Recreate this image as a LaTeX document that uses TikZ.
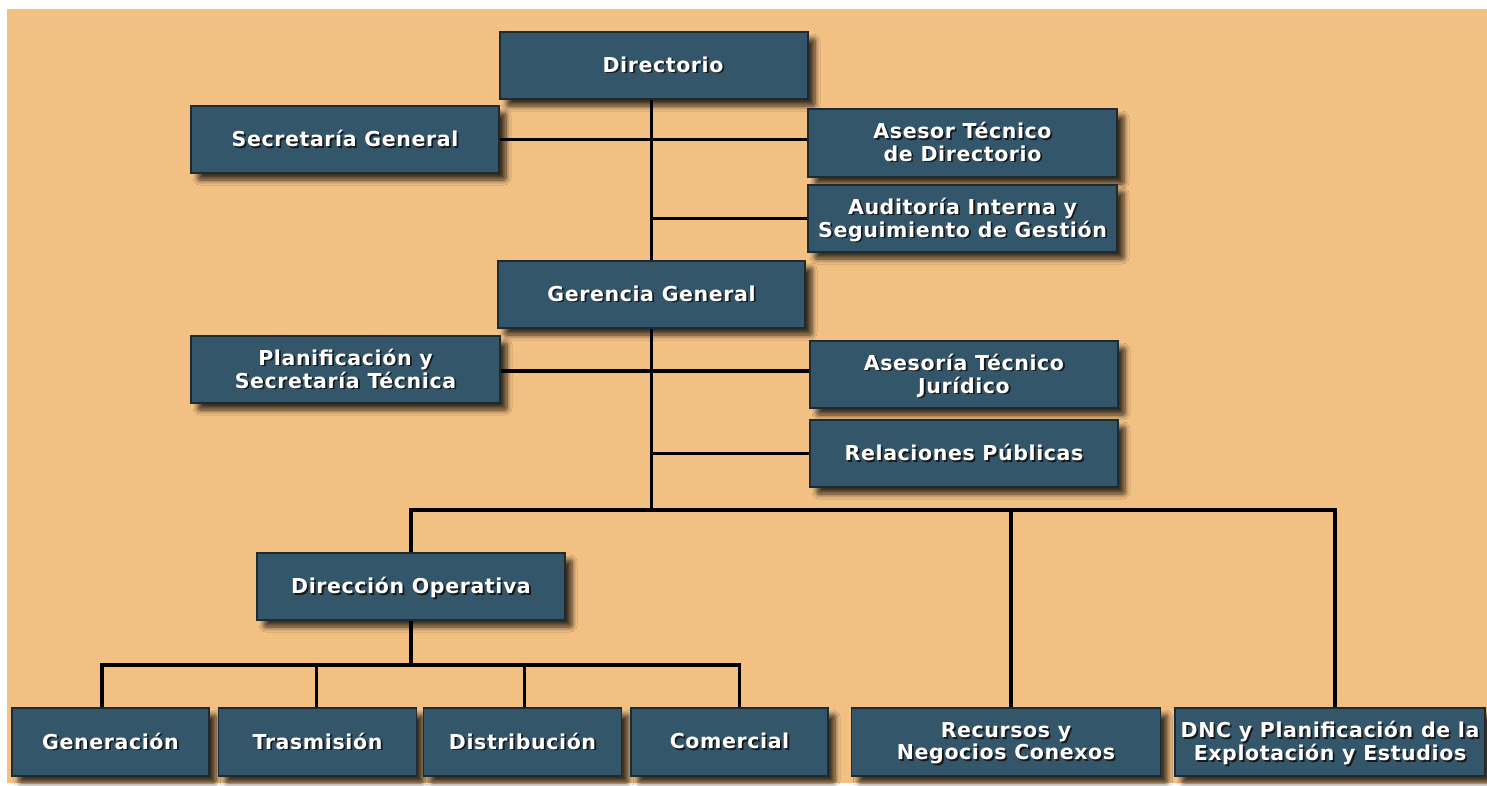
\documentclass[tikz,border=0pt]{standalone}
\usepackage{fontspec}
\setmainfont[LetterSpace=3]{DejaVu Sans}
\usetikzlibrary{shadows.blur,calc}
\definecolor{bgor}{HTML}{F2C083}
\definecolor{boxfill}{HTML}{33566B}
\definecolor{boxline}{HTML}{1B2A33}
\newcommand\lbltab[1]{\begin{tabular}{@{}c@{}}#1\end{tabular}}
\newcommand\lbl[1]{\raisebox{-3pt}[\height][\depth]{\rlap{\hspace{1.8pt}\raisebox{-1.8pt}{\color{black!90}\lbltab{#1}}}\lbltab{#1}}}
\tikzset{
  orgbox/.style={rectangle, fill=boxfill, draw=boxline, line width=1.5pt,
    minimum width=308pt, minimum height=67pt, inner sep=0pt, text=white,
    font=\bfseries\fontsize{20.5}{22}\selectfont,
    blur shadow={shadow xshift=7pt, shadow yshift=-7pt, shadow blur steps=8,
      shadow blur extra rounding=2pt, shadow opacity=75, shadow blur radius=5pt}},
  conn/.style={line width=3.5pt, black, line join=miter}
}
\begin{document}
\begin{tikzpicture}[x=1pt,y=-1pt]
\useasboundingbox (0,0) rectangle (1487,785);
\fill[white] (0,0) rectangle (1487,785);
\fill[bgor] (7,9) rectangle (1487,783);

\node[orgbox] (dir) at (654,65.5) {\lbl{\hspace{18pt}Directorio}};
\node[orgbox] (sec) at (345,139.5) {\lbl{Secretaría General}};
\node[orgbox, minimum width=309pt, minimum height=68pt] (ase) at (962.5,143) {\lbl{Asesor Técnico\\de Directorio}};
\node[orgbox, minimum width=309pt] (aud) at (962.5,218.5) {\lbl{Auditoría Interna y\\Seguimiento de Gestión}};
\node[orgbox, minimum width=307pt] (ger) at (651.5,294.5) {\lbl{Gerencia General}};
\node[orgbox, minimum width=309pt] (pla) at (345.5,369.5) {\lbl{Planificación y\\Secretaría Técnica}};
\node[orgbox] (asj) at (964,374.5) {\lbl{Asesoría Técnico\\Jurídico}};
\node[orgbox] (rel) at (964,453.5) {\lbl{Relaciones Públicas}};
\node[orgbox] (dop) at (411,586.5) {\lbl{Dirección Operativa}};
\node[orgbox, minimum width=197pt, minimum height=68pt] (gen) at (110.5,742) {\lbl{Generación}};
\node[orgbox, minimum width=198pt, minimum height=68pt] (tra) at (317.5,742) {\lbl{Trasmisión}};
\node[orgbox, minimum width=198pt, minimum height=68pt] (dis) at (522.5,742) {\lbl{Distribución}};
\node[orgbox, minimum width=197pt, minimum height=68pt] (com) at (729.5,742) {\lbl{Comercial}};
\node[orgbox, minimum width=309pt, minimum height=68pt] (rec) at (1006,742) {\lbl{Recursos y\\Negocios Conexos}};
\node[orgbox, minimum width=310pt, minimum height=68pt] (dnc) at (1330,742) {\lbl{DNC y Planificación de la\\Explotación y Estudios}};

\coordinate (bus) at (653,510);
\coordinate (bus2) at (411,665);
\coordinate (jD) at ($(dnc.north)+(5,0)$);
\coordinate (jR) at ($(rec.north)+(5,0)$);
\coordinate (jG) at ($(gen.north)+(-8.5,0)$);
\coordinate (jT) at ($(tra.north)+(-1,0)$);
\coordinate (jS) at ($(dis.north)+(2,0)$);
\coordinate (jC) at ($(com.north)+(10,0)$);

\draw[conn] (ger.north |- dir.south) -- (ger.north);
\draw[conn] (sec.east) -- (sec.east -| ase.west);
\draw[conn] (aud.west) -- (aud.west -| ger.north);
\draw[conn] (ger.south) -- (ger.south |- bus);
\draw[conn] ($(pla.east)+(0,1.5)$) -- ($(pla.east -| asj.west)+(0,1.5)$);
\draw[conn] (rel.west) -- (rel.west -| ger.south);
\draw[conn] (dop.north) -- (dop.north |- bus) -- (jD |- bus) -- (jD);
\draw[conn] (jR) -- (jR |- bus);
\draw[conn] (dop.south) -- (bus2);
\draw[conn] (jG) -- (jG |- bus2) -- (jC |- bus2) -- (jC);
\draw[conn] (jT) -- (jT |- bus2);
\draw[conn] (jS) -- (jS |- bus2);
\end{tikzpicture}
\end{document}
